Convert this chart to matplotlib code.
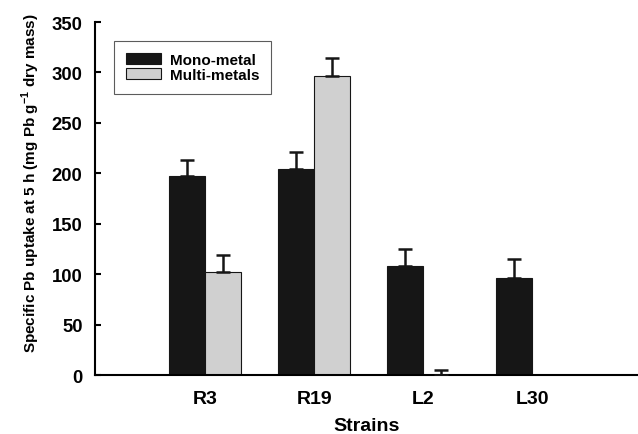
import matplotlib
matplotlib.use("Agg")
import matplotlib.pyplot as plt
import numpy as np

plt.rcParams['font.family'] = ['Liberation Sans', 'DejaVu Sans']
plt.rcParams['font.weight'] = 'bold'
plt.rcParams['mathtext.fontset'] = 'custom'
plt.rcParams['mathtext.bf'] = 'Liberation Sans:bold'
plt.rcParams['mathtext.rm'] = 'Liberation Sans:bold'

strains = ["R3", "R19", "L2", "L30"]
mono = [197, 204, 108, 96]
mono_err = [16, 17, 17, 19]
multi = [102, 297, 0, 0]
multi_err = [17, 17, 5, 0]

fig = plt.figure(figsize=(6.38, 4.35), dpi=100)
ax = fig.add_axes([0.149, 0.1356, 0.851, 0.8114])

x = np.arange(len(strains))
w = 0.33
ax.bar(x - w/2, mono, w, color='#161616', edgecolor='#161616', linewidth=0.8,
       label='Mono-metal', zorder=2)
ax.errorbar(x - w/2, mono, yerr=[np.zeros(len(mono)), mono_err], fmt='none',
            ecolor='#161616', elinewidth=1.8, capsize=5, capthick=1.8, zorder=3)
ax.bar(x + w/2, multi, w, color='#d0d0d0', edgecolor='#161616', linewidth=0.8,
       label='Multi-metals', zorder=2)
ax.errorbar(x[:3] + w/2, multi[:3], yerr=[np.zeros(3), multi_err[:3]], fmt='none',
            ecolor='#161616', elinewidth=1.8, capsize=5, capthick=1.8, zorder=3)

ax.set_xlim(-1.01, 3.97)
ax.set_ylim(0, 350)
ax.set_yticks(np.arange(0, 351, 50))
ax.set_xticks(x)
ax.set_xticklabels(strains, fontsize=14, fontweight='bold')
ax.tick_params(axis='x', length=0, pad=11)
ax.tick_params(axis='y', direction='in', length=4.5, width=1.5, labelsize=13.3, pad=9)
for lab in ax.get_yticklabels():
    lab.set_fontweight('bold')

ax.spines['top'].set_visible(False)
ax.spines['right'].set_visible(False)
ax.spines['left'].set_linewidth(1.5)
ax.spines['bottom'].set_linewidth(1.5)

ax.set_xlabel('Strains', fontsize=14, fontweight='bold', labelpad=7)
ax.set_ylabel('Specific Pb uptake at 5 h (mg Pb g$^{\\mathbf{-1}}$ dry mass)',
              fontsize=11, fontweight='bold')
ax.yaxis.set_label_coords(-0.098, 0.545)

leg = ax.legend(loc='upper left', bbox_to_anchor=(0.035, 0.946), fontsize=11,
                frameon=True, fancybox=False, edgecolor='#333333',
                handlelength=2.3, handleheight=0.75, borderpad=0.75,
                labelspacing=0.1, handletextpad=0.6, borderaxespad=0)
leg.get_frame().set_linewidth(0.8)
for t in leg.get_texts():
    t.set_fontweight('bold')

fig.savefig('out.png', dpi=100)
